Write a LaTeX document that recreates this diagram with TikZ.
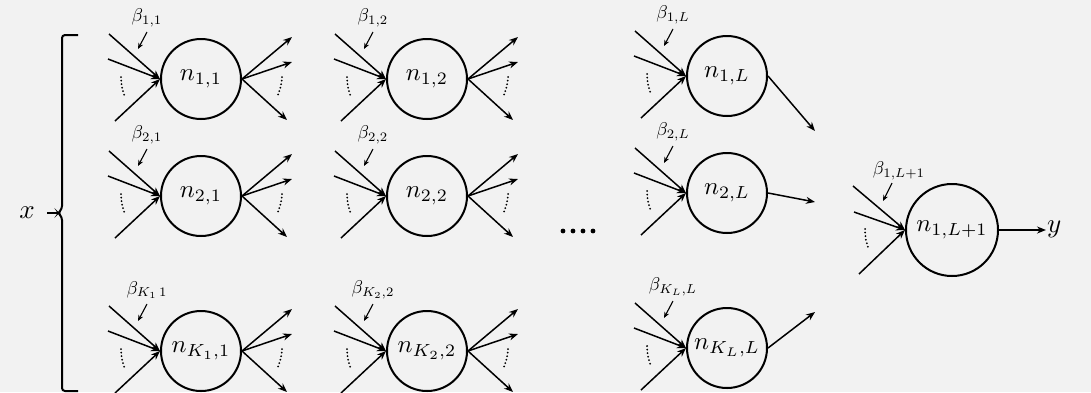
\documentclass[tikz,border=0pt]{standalone}
\usepackage{graphicx}
\usetikzlibrary{arrows.meta}
\newcommand\NLbl[1]{\scalebox{2.5}{$#1$}}
\newcommand\BigLbl[1]{\scalebox{2.7}{$#1$}}
\newcommand\BetaLbl[1]{\scalebox{1.85}{$\beta_{#1}$}}
\newcommand\NeuronIn[5]{%
  \node[neuron] (#1) at (#2,#3) {\NLbl{#4}};
  \coordinate (#1-i1) at ([shift={(-92,-45)}]#1.center);
  \coordinate (#1-i2) at ([shift={(-93,-20)}]#1.center);
  \coordinate (#1-i3) at ([shift={(-86,42)}]#1.center);
  \draw[conn] (#1-i1) -- (#1.west);
  \draw[conn] (#1-i2) -- (#1.west);
  \draw[conn] (#1-i3) -- (#1.west);
  \draw[dotarc] ([shift={(-80,-2)}]#1.center) to[bend right=10] ([shift={(-76,18)}]#1.center);
  \node[betalbl] (#1-b) at ([shift={(-54,-61)}]#1.center) {\BetaLbl{#5}};
  \coordinate (#1-bs) at ([shift={(-54,-47)}]#1.center);
  \coordinate (#1-bt) at ([shift={(-63,-30)}]#1.center);
  \draw[barrow] (#1-bs) -- (#1-bt);
}
\newcommand\NeuronOut[1]{%
  \coordinate (#1-o1) at ([shift={(91,-42)}]#1.center);
  \coordinate (#1-o2) at ([shift={(91,-17)}]#1.center);
  \coordinate (#1-o3) at ([shift={(86,41)}]#1.center);
  \draw[conn] (#1.east) -- (#1-o1);
  \draw[conn] (#1.east) -- (#1-o2);
  \draw[conn] (#1.east) -- (#1-o3);
  \draw[dotarc] ([shift={(81,-2)}]#1.center) to[bend left=10] ([shift={(76,18)}]#1.center);
}
\begin{document}
\begin{tikzpicture}[x=1pt,y=-1pt,
  neuron/.style={circle,draw,line width=2pt,minimum size=80pt,inner sep=0pt},
  conn/.style={line width=1.5pt,-{Stealth[length=9pt,width=7pt]}},
  dotarc/.style={line width=2pt,line cap=round,dash pattern=on 0pt off 3.6pt},
  betalbl/.style={inner sep=0pt},
  barrow/.style={line width=1.1pt,-{Stealth[length=6pt,width=5pt]}},
  brace/.style={line width=2pt,rounded corners=3pt},
  lbl/.style={inner sep=1pt}]
\fill[black!5] (0,0) rectangle (1091,392);
\useasboundingbox (0,0) rectangle (1091,392);

% column 1
\NeuronIn{n11}{201}{79}{n_{1,1}}{1,1}
\NeuronOut{n11}
\NeuronIn{n21}{201}{196}{n_{2,1}}{2,1}
\NeuronOut{n21}
\NeuronIn{nk1}{201}{351}{n_{K_1,1}}{K_1\,1}
\NeuronOut{nk1}
% column 2
\NeuronIn{n12}{427}{79}{n_{1,2}}{1,2}
\NeuronOut{n12}
\NeuronIn{n22}{427}{196}{n_{2,2}}{2,2}
\NeuronOut{n22}
\NeuronIn{nk2}{427}{351}{n_{K_2,2}}{K_2,2}
\NeuronOut{nk2}
% column L
\NeuronIn{n1L}{727}{76}{n_{1,L}}{1,L}
\NeuronIn{n2L}{727}{193}{n_{2,L}}{2,L}
\NeuronIn{nkL}{727}{348}{n_{K_L,L}}{K_L,L}
\coordinate (n1L-o) at (815,131);
\coordinate (n2L-o) at (815,202);
\coordinate (nkL-o) at (815,312);
\draw[conn] (n1L.east) -- (n1L-o);
\draw[conn] (n2L.east) -- (n2L-o);
\draw[conn] (nkL.east) -- (nkL-o);

% dots between columns
\foreach \xx in {563,573,583,593} \fill (\xx,231) circle (2.4pt);

% final neuron
\node[neuron,minimum size=92pt] (nf) at (952,230) {\NLbl{n_{1,L+1}}};
\coordinate (nf-i1) at (853,186);
\coordinate (nf-i2) at (854,212);
\coordinate (nf-i3) at (859,274);
\draw[conn] (nf-i1) -- (nf.west);
\draw[conn] (nf-i2) -- (nf.west);
\draw[conn] (nf-i3) -- (nf.west);
\draw[dotarc] (865,229) to[bend right=10] (869,250);
\node[betalbl] (nf-b) at (899,171) {\BetaLbl{1,L+1}};
\coordinate (nf-bs) at (892,183);
\coordinate (nf-bt) at (883,201);
\draw[barrow] (nf-bs) -- (nf-bt);
\node[lbl,anchor=west] (yout) at (1046,229) {\BigLbl{y}};
\draw[conn] (nf.east) -- (nf.east -| yout.west);

% input brace and x
\node[lbl] (xin) at (27,213) {\BigLbl{x}};
\coordinate (bt) at (78,35);
\coordinate (bb) at (78,391);
\coordinate (btip) at (47,213);
\draw[brace] (bt) -- (62,35) -- (62,209) -- (58,213) -- (62,217) -- (62,391) -- (bb);
\draw[line width=2pt] (btip) -- (59,213);
\end{tikzpicture}
\end{document}
